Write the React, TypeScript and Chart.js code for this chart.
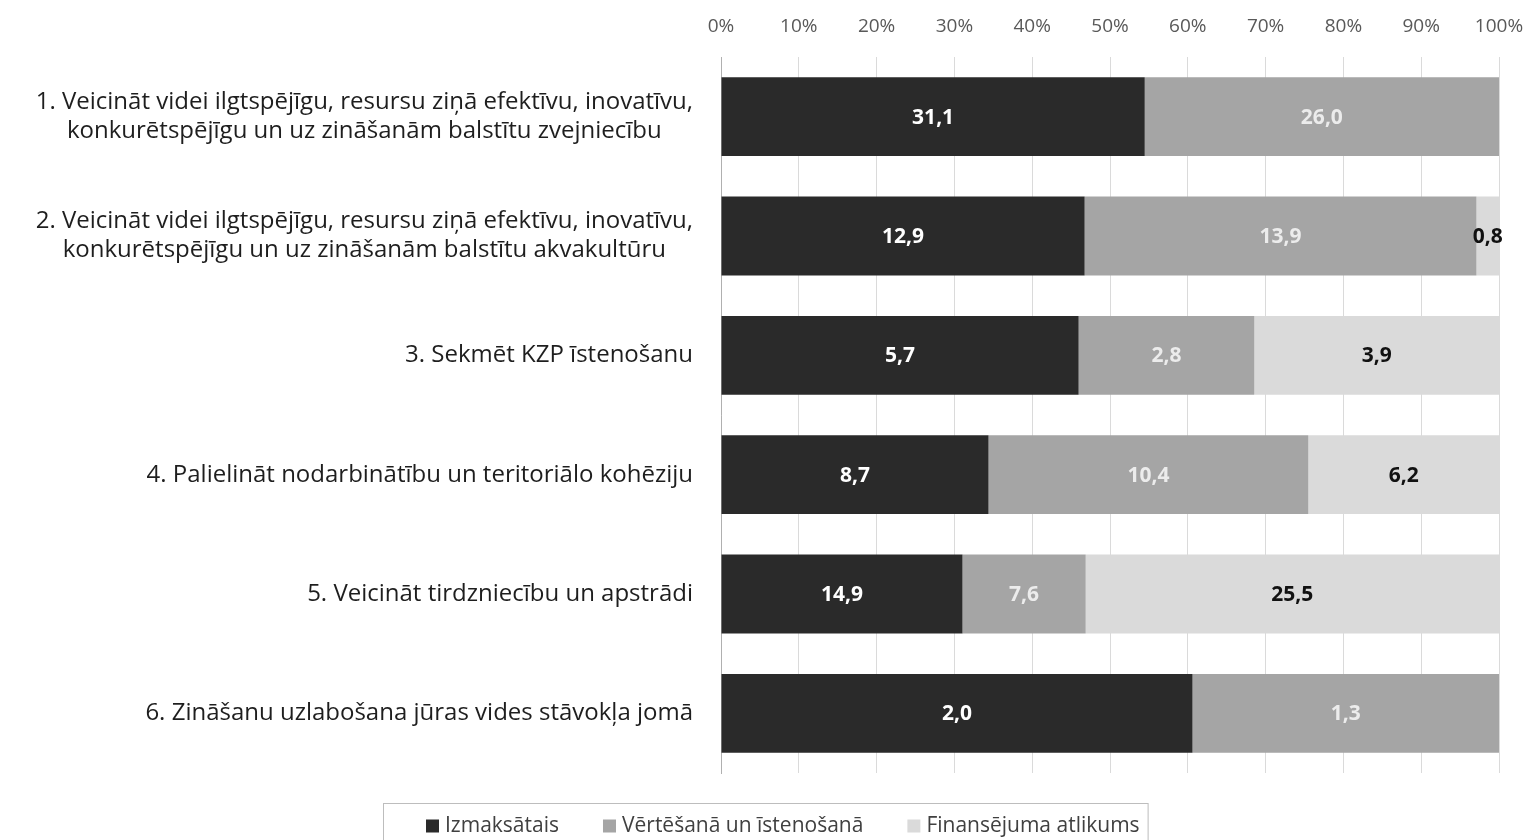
import React, { useEffect, useRef } from "react";
import { Chart, registerables } from "chart.js";

Chart.register(...registerables);

const categories: string[][] = [
  ["1. Veicināt videi ilgtspējīgu, resursu ziņā efektīvu, inovatīvu,", "konkurētspējīgu un uz zināšanām balstītu zvejniecību"],
  ["2. Veicināt videi ilgtspējīgu, resursu ziņā efektīvu, inovatīvu,", "konkurētspējīgu un uz zināšanām balstītu akvakultūru"],
  ["3. Sekmēt KZP īstenošanu"],
  ["4. Palielināt nodarbinātību un teritoriālo kohēziju"],
  ["5. Veicināt tirdzniecību un apstrādi"],
  ["6. Zināšanu uzlabošana jūras vides stāvokļa jomā"],
];

const seriesNames = ["Izmaksātais", "Vērtēšanā un īstenošanā", "Finansējuma atlikums"];
const paid = [31.1, 12.9, 5.7, 8.7, 14.9, 2.0];
const inProgress = [26.0, 13.9, 2.8, 10.4, 7.6, 1.3];
const remaining = [0, 0.8, 3.9, 6.2, 25.5, 0];
const seriesColors = ["#2a2a2a", "#a5a5a5", "#dadada"];
const labelColors = ["#ffffff", "#ececec", "#111111"];
const tickValues = [0, 10, 20, 30, 40, 50, 60, 70, 80, 90, 100];

const FONT = "'Open Sans', 'Noto Sans', sans-serif";

export default function App() {
  const ref = useRef<HTMLCanvasElement>(null);

  useEffect(() => {
    if (!ref.current) return;
    const raw = [paid, inProgress, remaining];
    const totals = paid.map((_, i) => paid[i] + inProgress[i] + remaining[i]);
    const pct = raw.map((s) => s.map((v, i) => (v / totals[i]) * 100));

    const labelPlugin = {
      id: "segLabels",
      afterDatasetsDraw(chart: any) {
        const ctx = chart.ctx;
        ctx.save();
        ctx.font = `bold 21px ${FONT}`;
        ctx.textAlign = "center";
        ctx.textBaseline = "middle";
        chart.data.datasets.forEach((ds: any, di: number) => {
          const meta = chart.getDatasetMeta(di);
          meta.data.forEach((bar: any, i: number) => {
            const v = raw[di][i];
            if (!v) return;
            const x = (bar.base + bar.x) / 2;
            ctx.fillStyle = labelColors[di];
            ctx.fillText(v.toFixed(1).replace(".", ","), x, bar.y + 1);
          });
        });
        ctx.restore();
      },
    };

    const yLabelPlugin = {
      id: "yLabels",
      afterDraw(chart: any) {
        const ctx = chart.ctx;
        const ys = chart.scales.y;
        ctx.save();
        ctx.font = `24px ${FONT}`;
        ctx.fillStyle = "#1e1e1e";
        ctx.textAlign = "center";
        ctx.textBaseline = "middle";
        const right = chart.chartArea.left - 28;
        const lh = 29;
        categories.forEach((lines, i) => {
          const cy = ys.getPixelForValue(i);
          const maxW = Math.max(...lines.map((l) => ctx.measureText(l).width));
          const cx = right - maxW / 2;
          lines.forEach((l, k) => {
            const y = cy + (k - (lines.length - 1) / 2) * lh;
            ctx.fillText(l, cx, y);
          });
        });
        ctx.restore();
      },
    };

    const legendPlugin = {
      id: "customLegend",
      afterDraw(chart: any) {
        const ctx = chart.ctx;
        ctx.save();
        ctx.font = `21px ${FONT}`;
        ctx.textBaseline = "middle";
        ctx.textAlign = "left";
        const sq = 13;
        const sqGap = 6;
        const itemGap = 44;
        const widths = seriesNames.map((n) => sq + sqGap + ctx.measureText(n).width);
        const group = widths.reduce((a, b) => a + b, 0) + itemGap * (widths.length - 1);
        const leftMargin = 43;
        const rightMargin = 8;
        const boxW = group + leftMargin + rightMargin;
        const boxLeft = Math.round(chart.width / 2 + 2 - boxW / 2);
        const boxTop = 803;
        ctx.strokeStyle = "#bdbdbd";
        ctx.lineWidth = 1;
        ctx.strokeRect(boxLeft + 0.5, boxTop + 0.5, boxW, chart.height - boxTop + 5);
        let x = boxLeft + leftMargin;
        const cy = 826;
        seriesNames.forEach((n, i) => {
          ctx.fillStyle = seriesColors[i];
          ctx.fillRect(x, cy - sq / 2, sq, sq);
          ctx.fillStyle = "#404040";
          ctx.fillText(n, x + sq + sqGap, cy);
          x += widths[i] + itemGap;
        });
        ctx.restore();
      },
    };

    const chart = new Chart(ref.current, {
      type: "bar",
      data: {
        labels: categories.map((c) => c.join(" ")),
        datasets: pct.map((d, i) => ({
          label: seriesNames[i],
          data: d,
          backgroundColor: seriesColors[i],
          borderWidth: 0,
          barPercentage: 0.66,
          categoryPercentage: 1,
        })),
      },
      options: {
        indexAxis: "y",
        animation: false,
        responsive: true,
        maintainAspectRatio: false,
        layout: { padding: { top: 0, right: 27, bottom: 67, left: 0 } },
        scales: {
          x: {
            position: "top",
            stacked: true,
            min: 0,
            max: 100,
            afterBuildTicks(scale: any) {
              scale.ticks = tickValues.map((v) => ({ value: v }));
            },
            afterFit(scale: any) {
              scale.height = 57;
              scale.paddingRight = 0;
              scale.paddingLeft = 0;
            },
            ticks: {
              callback: (v: any) => v + "%",
              color: "#595959",
              font: { family: FONT, size: 19 },
              padding: 19,
              maxRotation: 0,
              autoSkip: false,
            },
            grid: { color: "#dadada", drawTicks: false },
            border: { display: false },
          },
          y: {
            stacked: true,
            ticks: { display: false },
            grid: { display: false },
            border: { display: true, color: "#b0b0b0" },
            afterFit(scale: any) {
              scale.width = 721;
            },
          },
        },
        plugins: {
          legend: { display: false },
          tooltip: { enabled: false },
        },
      },
      plugins: [labelPlugin, yLabelPlugin, legendPlugin],
    });
    return () => chart.destroy();
  }, []);

  return (
    <div style={{ position: "absolute", left: 0, top: 0, width: 1526, height: 840, background: "#ffffff" }}>
      <canvas ref={ref} />
    </div>
  );
}
